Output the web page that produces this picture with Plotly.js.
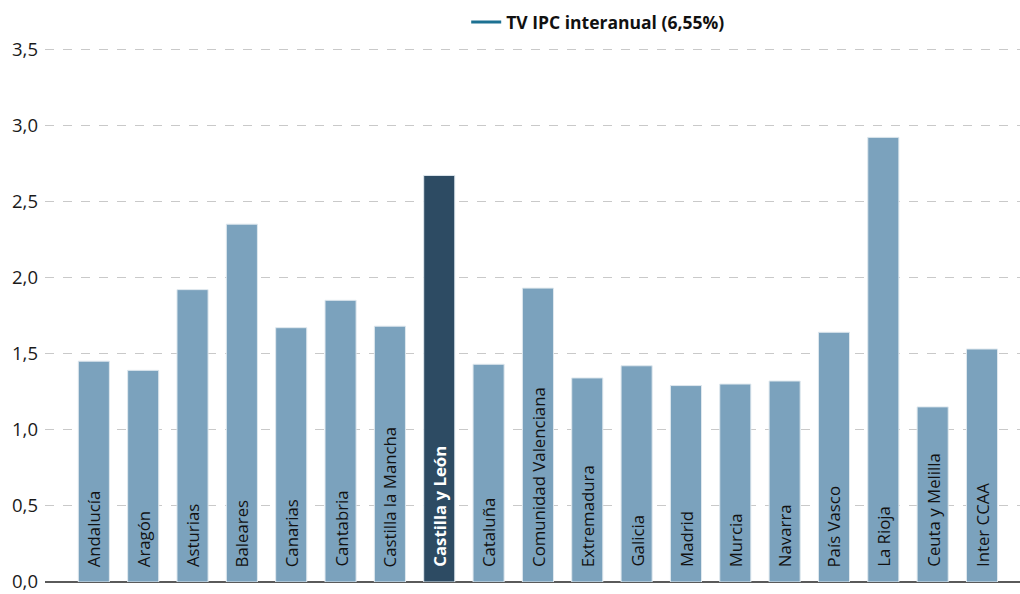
<!DOCTYPE html>
<html><head><meta charset="utf-8">
<script src="https://cdn.plot.ly/plotly-3.0.1.min.js"></script>
<style>html,body{margin:0;padding:0;background:#fff}#chart{width:1020px;height:594px}</style>
</head><body><div id="chart"></div>
<script>
const categories = ["Andalucía","Aragón","Asturias","Baleares","Canarias","Cantabria","Castilla la Mancha","Castilla y León","Cataluña","Comunidad Valenciana","Extremadura","Galicia","Madrid","Murcia","Navarra","País Vasco","La Rioja","Ceuta y Melilla","Inter CCAA"];
const values = [1.45,1.39,1.92,2.35,1.67,1.85,1.68,2.67,1.43,1.93,1.34,1.42,1.29,1.30,1.32,1.64,2.92,1.15,1.53];
const ipcName = "TV IPC interanual (6,55%)";
const ipcValue = 6.55;
const highlight = "Castilla y León";
const yTickVals = [0,0.5,1,1.5,2,2.5,3,3.5];
const yTickText = ["0,0","0,5","1,0","1,5","2,0","2,5","3,0","3,5"];

const light = "#7ba2bd", dark = "#2d4b63";
const barColors = categories.map(c => c === highlight ? dark : light);

const traces = [
  {type:"bar", x:categories, y:values, marker:{color:barColors, line:{color:"#dfe8ee", width:1}},
   showlegend:false, hoverinfo:"x+y"},
  {type:"scatter", mode:"lines", x:categories, y:categories.map(()=>ipcValue), name:ipcName,
   line:{color:"#1c7192", width:3}, showlegend:true}
];

const annotations = categories.map(c => ({
  x:c, y:0, xref:"x", yref:"y", text: c === highlight ? "<b>"+c+"</b>" : c,
  textangle:-90, showarrow:false, xanchor:"center", yanchor:"bottom", yshift:13,
  font:{family:"Open Sans, Noto Sans, sans-serif", size:16.8, color: c === highlight ? "#ffffff" : "#111111"}
}));

const layout = {
  width:1020, height:594,
  margin:{l:45, r:0, t:46, b:12},
  paper_bgcolor:"#fff", plot_bgcolor:"#fff",
  bargap:0.37,
  font:{family:"Open Sans, Noto Sans, sans-serif", color:"#1a1a1a"},
  xaxis:{range:[-0.99,18.77], showticklabels:false, ticks:"", showgrid:false, zeroline:false,
         showline:false, fixedrange:true},
  yaxis:{range:[0,3.52], tickvals:yTickVals, ticktext:yTickText, showgrid:true,
         gridcolor:"#c9c9c9", griddash:"dash", gridwidth:1, zeroline:true, zerolinecolor:"#5a5a5a",
         zerolinewidth:2.5, showline:false, ticks:"", ticklabelstandoff:6,
         tickfont:{size:18.5, color:"#1a1a1a", family:"Open Sans, Noto Sans, sans-serif"}},
  showlegend:true,
  legend:{orientation:"h", x:0.432, xanchor:"left", y:1.078, yanchor:"top",
          font:{size:17.5, color:"#111", family:"Open Sans, Noto Sans, sans-serif", weight:"bold"},
          bgcolor:"rgba(0,0,0,0)"},
  annotations: annotations
};
Plotly.newPlot("chart", traces, layout, {displayModeBar:false, staticPlot:true});
</script></body></html>
